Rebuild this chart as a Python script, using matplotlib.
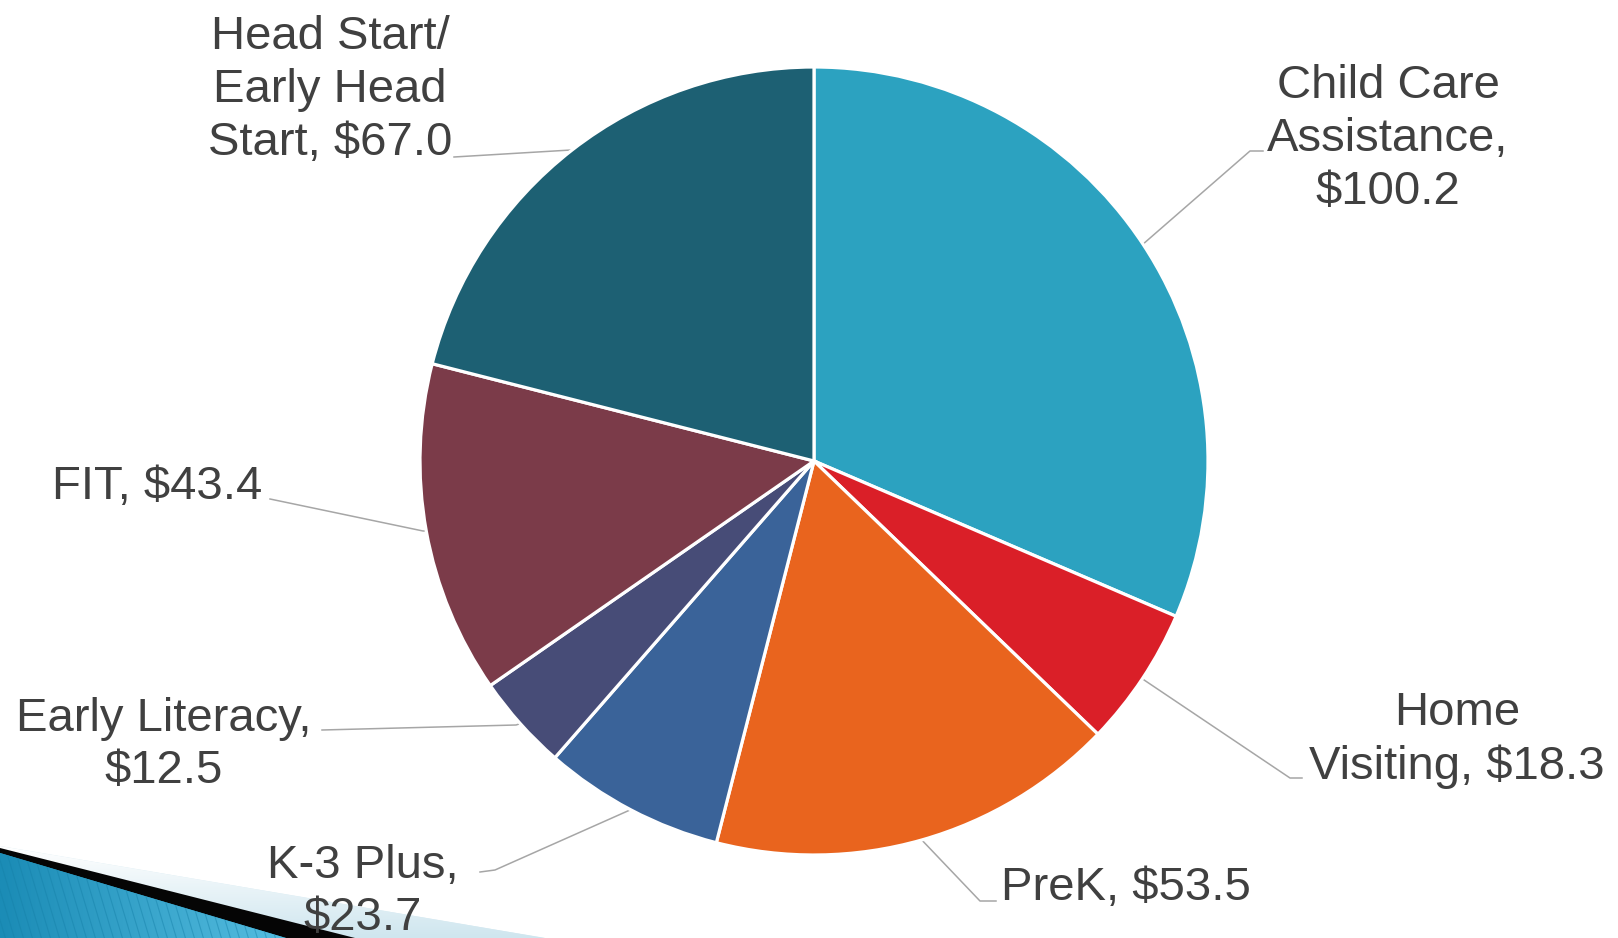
"""
Early childhood funding pie chart (millions of dollars), recreated from a
slide screenshot.
"""

import matplotlib.pyplot as plt
import numpy as np
from matplotlib.colors import LinearSegmentedColormap
from matplotlib.patches import Polygon

# ---- data -----------------------------------------------------------------
categories = ["Child Care\nAssistance", "Home\nVisiting", "PreK", "K-3 Plus",
              "Early Literacy", "FIT", "Head Start/\nEarly Head\nStart"]
values = [100.2, 18.3, 53.5, 23.7, 12.5, 43.4, 67.0]
value_sep = [",\n", ", ", ", ", ",\n", ",\n", ", ", ", "]
colors = ["#2ca2c0", "#da1f28", "#e9641e", "#3a6399",
          "#474c77", "#7b3b49", "#1d6073"]

# ---- layout (pixel coords, y measured from top) -----------------------------
W, H = 1618, 938
CENTER = (814, 461)
RADIUS = 394
label_xy = [(1388, 139), (1457, 740), (1126, 888), (363, 892),
            (164, 745), (157, 487), (330, 90)]
leader_elbow = [(1250, 151), (1290, 778), (980, 901), (495, 870),
                (516, 725), (423, 531), (571, 150)]
leader_end = [(1263, 151), (1302, 778), (996, 901), (480, 872),
              (322, 730), (270, 499), (454, 157)]

TEXT = "#404040"
LEADER = "#a6a6a6"

plt.rcParams["font.family"] = ["Liberation Sans", "DejaVu Sans"]


def up(y):
    return H - y


def draw_corner(ax):
    """Blue striped wedge in the bottom-left corner of the slide."""
    light = Polygon([(0, up(846)), (545, up(938)), (0, up(938))],
                    closed=True, facecolor="#d6eaf2", edgecolor="none",
                    zorder=1)
    ax.add_patch(light)
    grad = np.linspace(0, 1, 100).reshape(-1, 1)
    im = ax.imshow(grad, extent=(0, 545, up(938), up(846)), origin="lower",
                   cmap=LinearSegmentedColormap.from_list(
                       "fade", ["#cfe6ef", "#ffffff"]),
                   aspect="auto", zorder=1.1)
    im.set_clip_path(light)

    black = Polygon([(0, up(848)), (355, up(938)), (0, up(938))],
                    closed=True, facecolor="#050505", edgecolor="none",
                    zorder=2)
    ax.add_patch(black)

    blue = Polygon([(0, up(853)), (286, up(938)), (0, up(938))],
                   closed=True, facecolor="#2a9dc6", edgecolor="none",
                   zorder=3)
    ax.add_patch(blue)
    hgrad = np.linspace(0, 1, 100).reshape(1, -1)
    im2 = ax.imshow(hgrad, extent=(0, 286, up(938), up(853)), origin="lower",
                    cmap=LinearSegmentedColormap.from_list(
                        "blue", ["#1b8cb6", "#55bde0"]),
                    aspect="auto", zorder=3.1)
    im2.set_clip_path(blue)
    for x0 in np.arange(-60, 300, 9):
        ln, = ax.plot([x0, x0 + 30], [up(840), up(940)], color="#1580a8",
                      lw=0.8, alpha=0.45, zorder=3.2)
        ln.set_clip_path(blue)


fig = plt.figure(figsize=(W / 100, H / 100), dpi=100)
ax = fig.add_axes([0, 0, 1, 1])

wedges, _ = ax.pie(values, colors=colors, startangle=90, counterclock=False,
                   center=(CENTER[0], up(CENTER[1])), radius=RADIUS,
                   wedgeprops=dict(edgecolor="white", linewidth=2.3))
for w in wedges:
    w.set_zorder(5)

draw_corner(ax)

for w, name, val, sep, pos, elbow, end in zip(
        wedges, categories, values, value_sep, label_xy,
        leader_elbow, leader_end):
    mid = np.deg2rad((w.theta1 + w.theta2) / 2)
    sx = CENTER[0] + RADIUS * np.cos(mid)
    sy = up(CENTER[1]) + RADIUS * np.sin(mid)
    ax.plot([sx, elbow[0], end[0]], [sy, up(elbow[1]), up(end[1])],
            color=LEADER, lw=1.1, zorder=4)
    ax.text(pos[0], up(pos[1]), f"{name}{sep}${val:.1f}", ha="center",
            va="center", multialignment="center", fontsize=34,
            linespacing=1.26, color=TEXT, zorder=6)

ax.set_xlim(0, W)
ax.set_ylim(0, H)
ax.set_aspect("auto")
ax.axis("off")

fig.savefig("out.png", dpi=100)
